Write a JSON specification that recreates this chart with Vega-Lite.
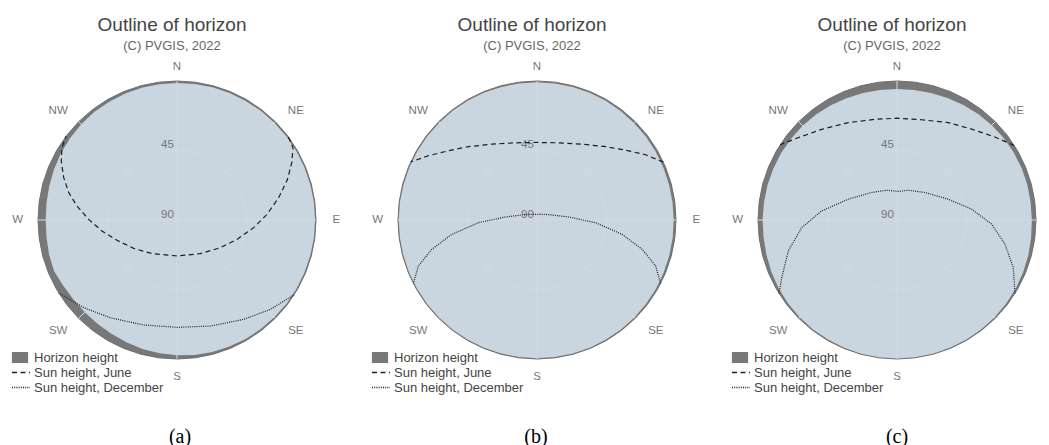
{
  "$schema": "https://vega.github.io/schema/vega-lite/v6.json",
  "background": "white",
  "padding": {"left": 0, "right": 0, "top": 16, "bottom": 0},
  "spacing": 0,
  "config": {
    "view": {"stroke": null},
    "font": "Liberation Sans",
    "title": {"font": "Liberation Sans", "fontSize": 19, "fontWeight": "normal", "color": "#444444", "subtitleFont": "Liberation Sans", "subtitleFontSize": 13, "subtitleFontWeight": "normal", "subtitleColor": "#666666", "subtitlePadding": 5, "offset": 4},
    "legend": {"labelFont": "Liberation Sans", "labelFontSize": 13, "labelFontWeight": "normal", "labelColor": "#444444", "symbolSize": 324, "clipHeight": 15, "rowPadding": 0, "padding": 0, "labelOffset": 4, "title": null, "orient": "none", "legendX": 11, "legendY": 293}
  },
  "datasets": {
    "dirs": [
      {"az": 0, "label": "N"}, {"az": 45, "label": "NE"}, {"az": 90, "label": "E"}, {"az": 135, "label": "SE"},
      {"az": 180, "label": "S"}, {"az": 225, "label": "SW"}, {"az": 270, "label": "W"}, {"az": 315, "label": "NW"}
    ],
    "ticks": [{"elev": 45, "label": "45"}, {"elev": 90, "label": "90"}],
    "horizonA": [
      {"az": 0, "h": 1.3}, {"az": 7.5, "h": 1.2}, {"az": 15, "h": 1.1}, {"az": 22.5, "h": 1.0}, {"az": 30, "h": 1.0}, {"az": 37.5, "h": 0.9},
      {"az": 45, "h": 0.9}, {"az": 52.5, "h": 0.8}, {"az": 60, "h": 0.8}, {"az": 67.5, "h": 0.7}, {"az": 75, "h": 0.7}, {"az": 82.5, "h": 0.6},
      {"az": 90, "h": 0.6}, {"az": 97.5, "h": 0.6}, {"az": 105, "h": 0.7}, {"az": 112.5, "h": 0.7}, {"az": 120, "h": 0.8}, {"az": 127.5, "h": 0.8},
      {"az": 135, "h": 0.9}, {"az": 142.5, "h": 1.0}, {"az": 150, "h": 1.1}, {"az": 157.5, "h": 1.3}, {"az": 165, "h": 1.6}, {"az": 172.5, "h": 1.9},
      {"az": 180, "h": 2.4}, {"az": 187.5, "h": 3.0}, {"az": 195, "h": 3.6}, {"az": 202.5, "h": 4.3}, {"az": 210, "h": 5.0}, {"az": 217.5, "h": 5.4},
      {"az": 225, "h": 5.6}, {"az": 232.5, "h": 5.5}, {"az": 240, "h": 5.0}, {"az": 247.5, "h": 3.8}, {"az": 255, "h": 4.2}, {"az": 262.5, "h": 4.8},
      {"az": 270, "h": 5.0}, {"az": 277.5, "h": 4.8}, {"az": 285, "h": 4.4}, {"az": 292.5, "h": 3.9}, {"az": 300, "h": 3.3}, {"az": 307.5, "h": 2.8},
      {"az": 315, "h": 2.3}, {"az": 322.5, "h": 1.9}, {"az": 330, "h": 1.7}, {"az": 337.5, "h": 1.5}, {"az": 345, "h": 1.4}, {"az": 352.5, "h": 1.3}
    ],
    "horizonB": [
      {"az": 0, "h": 0.8}, {"az": 7.5, "h": 0.8}, {"az": 15, "h": 0.8}, {"az": 22.5, "h": 0.9}, {"az": 30, "h": 0.9}, {"az": 37.5, "h": 1.0},
      {"az": 45, "h": 1.1}, {"az": 52.5, "h": 1.2}, {"az": 60, "h": 1.3}, {"az": 67.5, "h": 1.4}, {"az": 75, "h": 1.5}, {"az": 82.5, "h": 1.5},
      {"az": 90, "h": 1.5}, {"az": 97.5, "h": 1.4}, {"az": 105, "h": 1.3}, {"az": 112.5, "h": 1.2}, {"az": 120, "h": 1.0}, {"az": 127.5, "h": 0.9},
      {"az": 135, "h": 0.8}, {"az": 142.5, "h": 0.7}, {"az": 150, "h": 0.6}, {"az": 157.5, "h": 0.5}, {"az": 165, "h": 0.5}, {"az": 172.5, "h": 0.5},
      {"az": 180, "h": 0.5}, {"az": 187.5, "h": 0.5}, {"az": 195, "h": 0.5}, {"az": 202.5, "h": 0.5}, {"az": 210, "h": 0.5}, {"az": 217.5, "h": 0.5},
      {"az": 225, "h": 0.5}, {"az": 232.5, "h": 0.5}, {"az": 240, "h": 0.5}, {"az": 247.5, "h": 0.5}, {"az": 255, "h": 0.5}, {"az": 262.5, "h": 0.5},
      {"az": 270, "h": 0.5}, {"az": 277.5, "h": 0.5}, {"az": 285, "h": 0.6}, {"az": 292.5, "h": 0.6}, {"az": 300, "h": 0.6}, {"az": 307.5, "h": 0.6},
      {"az": 315, "h": 0.7}, {"az": 322.5, "h": 0.7}, {"az": 330, "h": 0.7}, {"az": 337.5, "h": 0.7}, {"az": 345, "h": 0.8}, {"az": 352.5, "h": 0.8}
    ],
    "horizonC": [
      {"az": 0, "h": 5.2}, {"az": 7.5, "h": 5.1}, {"az": 15, "h": 4.9}, {"az": 22.5, "h": 4.5}, {"az": 30, "h": 4.0}, {"az": 37.5, "h": 3.6},
      {"az": 45, "h": 3.2}, {"az": 52.5, "h": 2.9}, {"az": 60, "h": 2.7}, {"az": 67.5, "h": 2.6}, {"az": 75, "h": 2.6}, {"az": 82.5, "h": 2.7},
      {"az": 90, "h": 2.7}, {"az": 97.5, "h": 2.4}, {"az": 105, "h": 2.0}, {"az": 112.5, "h": 1.6}, {"az": 120, "h": 1.2}, {"az": 127.5, "h": 1.0},
      {"az": 135, "h": 0.8}, {"az": 142.5, "h": 0.6}, {"az": 150, "h": 0.5}, {"az": 157.5, "h": 0.4}, {"az": 165, "h": 0.3}, {"az": 172.5, "h": 0.3},
      {"az": 180, "h": 0.3}, {"az": 187.5, "h": 0.3}, {"az": 195, "h": 0.4}, {"az": 202.5, "h": 0.5}, {"az": 210, "h": 0.6}, {"az": 217.5, "h": 0.7},
      {"az": 225, "h": 0.9}, {"az": 232.5, "h": 1.1}, {"az": 240, "h": 1.5}, {"az": 247.5, "h": 2.0}, {"az": 255, "h": 2.5}, {"az": 262.5, "h": 2.9},
      {"az": 270, "h": 3.0}, {"az": 277.5, "h": 3.1}, {"az": 285, "h": 3.2}, {"az": 292.5, "h": 3.3}, {"az": 300, "h": 3.4}, {"az": 307.5, "h": 3.5},
      {"az": 315, "h": 3.6}, {"az": 322.5, "h": 3.9}, {"az": 330, "h": 4.2}, {"az": 337.5, "h": 4.6}, {"az": 345, "h": 4.9}, {"az": 352.5, "h": 5.1}
    ],
    "sunA": [
      {"series": "Sun height, June", "az": 53.3, "elev": 0}, {"series": "Sun height, June", "az": 58.1, "elev": 1.5},
      {"series": "Sun height, June", "az": 63.5, "elev": 7.0}, {"series": "Sun height, June", "az": 70.0, "elev": 14.0},
      {"series": "Sun height, June", "az": 77.6, "elev": 22.6}, {"series": "Sun height, June", "az": 86.4, "elev": 31.6},
      {"series": "Sun height, June", "az": 95.7, "elev": 40.1}, {"series": "Sun height, June", "az": 107.9, "elev": 49.2},
      {"series": "Sun height, June", "az": 122.6, "elev": 56.7}, {"series": "Sun height, June", "az": 145.3, "elev": 63.5},
      {"series": "Sun height, June", "az": 180, "elev": 66.7}, {"series": "Sun height, June", "az": 216.6, "elev": 62.9},
      {"series": "Sun height, June", "az": 236.8, "elev": 56.5}, {"series": "Sun height, June", "az": 251.3, "elev": 49.0},
      {"series": "Sun height, June", "az": 261.7, "elev": 40.9}, {"series": "Sun height, June", "az": 270.4, "elev": 32.8},
      {"series": "Sun height, June", "az": 278.0, "elev": 24.6}, {"series": "Sun height, June", "az": 284.2, "elev": 17.7},
      {"series": "Sun height, June", "az": 290.5, "elev": 11.7}, {"series": "Sun height, June", "az": 297.0, "elev": 5.9},
      {"series": "Sun height, June", "az": 302.2, "elev": 2.0}, {"series": "Sun height, June", "az": 307.1, "elev": 0},
      {"series": "Sun height, December", "az": 122.5, "elev": 0}, {"series": "Sun height, December", "az": 133.7, "elev": 6.3},
      {"series": "Sun height, December", "az": 146.1, "elev": 12.5}, {"series": "Sun height, December", "az": 162.5, "elev": 18.0},
      {"series": "Sun height, December", "az": 180, "elev": 20.5}, {"series": "Sun height, December", "az": 197.6, "elev": 18.7},
      {"series": "Sun height, December", "az": 214.3, "elev": 13.4}, {"series": "Sun height, December", "az": 226.8, "elev": 7.1},
      {"series": "Sun height, December", "az": 238.4, "elev": 0}
    ],
    "sunB": [
      {"series": "Sun height, June", "az": 65.4, "elev": 0}, {"series": "Sun height, June", "az": 59.0, "elev": 8.0},
      {"series": "Sun height, June", "az": 51.7, "elev": 17.0}, {"series": "Sun height, June", "az": 43.1, "elev": 25.0},
      {"series": "Sun height, June", "az": 30.7, "elev": 32.9}, {"series": "Sun height, June", "az": 15.7, "elev": 38.1},
      {"series": "Sun height, June", "az": 0, "elev": 39.8}, {"series": "Sun height, June", "az": 344.3, "elev": 38.1},
      {"series": "Sun height, June", "az": 329.3, "elev": 32.9}, {"series": "Sun height, June", "az": 316.9, "elev": 25.0},
      {"series": "Sun height, June", "az": 308.0, "elev": 17.2}, {"series": "Sun height, June", "az": 300.6, "elev": 8.3},
      {"series": "Sun height, June", "az": 294.7, "elev": 0},
      {"series": "Sun height, December", "az": 117.2, "elev": 0}, {"series": "Sun height, December", "az": 111.2, "elev": 7.6},
      {"series": "Sun height, December", "az": 105.6, "elev": 19.2}, {"series": "Sun height, December", "az": 99.6, "elev": 34.0},
      {"series": "Sun height, December", "az": 92.6, "elev": 52.1}, {"series": "Sun height, December", "az": 84.6, "elev": 69.4},
      {"series": "Sun height, December", "az": 71.6, "elev": 79.7}, {"series": "Sun height, December", "az": 49.6, "elev": 84.3},
      {"series": "Sun height, December", "az": 0, "elev": 86.3}, {"series": "Sun height, December", "az": 310.4, "elev": 84.3},
      {"series": "Sun height, December", "az": 288.4, "elev": 79.7}, {"series": "Sun height, December", "az": 275.4, "elev": 69.4},
      {"series": "Sun height, December", "az": 267.4, "elev": 52.1}, {"series": "Sun height, December", "az": 260.4, "elev": 34.0},
      {"series": "Sun height, December", "az": 254.4, "elev": 19.2}, {"series": "Sun height, December", "az": 248.8, "elev": 7.6},
      {"series": "Sun height, December", "az": 242.8, "elev": 0}
    ],
    "sunC": [
      {"series": "Sun height, June", "az": 57.6, "elev": 0}, {"series": "Sun height, June", "az": 49.7, "elev": 6.9},
      {"series": "Sun height, June", "az": 39.4, "elev": 13.9}, {"series": "Sun height, June", "az": 27.8, "elev": 18.7},
      {"series": "Sun height, June", "az": 13.7, "elev": 23.2}, {"series": "Sun height, June", "az": 0, "elev": 24.1},
      {"series": "Sun height, June", "az": 347.7, "elev": 23.3}, {"series": "Sun height, June", "az": 333.5, "elev": 19.5},
      {"series": "Sun height, June", "az": 320.3, "elev": 13.7}, {"series": "Sun height, June", "az": 309.9, "elev": 6.8},
      {"series": "Sun height, June", "az": 302.8, "elev": 0},
      {"series": "Sun height, December", "az": 121.9, "elev": 0}, {"series": "Sun height, December", "az": 112.2, "elev": 8.7},
      {"series": "Sun height, December", "az": 102.6, "elev": 18.4}, {"series": "Sun height, December", "az": 92.5, "elev": 28.7},
      {"series": "Sun height, December", "az": 81.7, "elev": 41.2}, {"series": "Sun height, December", "az": 67.9, "elev": 54.2},
      {"series": "Sun height, December", "az": 45.5, "elev": 64.6}, {"series": "Sun height, December", "az": 20.8, "elev": 69.4},
      {"series": "Sun height, December", "az": 2.7, "elev": 71.5}, {"series": "Sun height, December", "az": 340.9, "elev": 69.6},
      {"series": "Sun height, December", "az": 317.4, "elev": 65.8}, {"series": "Sun height, December", "az": 293.2, "elev": 55.8},
      {"series": "Sun height, December", "az": 276.9, "elev": 40.9}, {"series": "Sun height, December", "az": 265.5, "elev": 28.2},
      {"series": "Sun height, December", "az": 254.2, "elev": 16.9}, {"series": "Sun height, December", "az": 243.5, "elev": 6.7},
      {"series": "Sun height, December", "az": 238.1, "elev": 0}
    ]
  },
  "resolve": {"scale": {"strokeDash": "independent", "fill": "independent"}, "legend": {"strokeDash": "independent", "fill": "independent"}},
  "hconcat": [
    {
      "title": {"text": "(a)", "orient": "bottom", "anchor": "middle", "font": "Liberation Serif", "fontSize": 20, "color": "#000000", "offset": 8, "dx": 0},
      "resolve": {"scale": {"strokeDash": "independent", "fill": "independent"}, "legend": {"strokeDash": "independent", "fill": "independent"}},
      "vconcat": [
        {
          "title": {"text": "Outline of horizon", "subtitle": "(C) PVGIS, 2022", "anchor": "middle", "dx": -8},
          "width": 360, "height": 362,
          "projection": {"type": "azimuthalEquidistant", "rotate": [0, -90, 0], "reflectY": true, "scale": 88.5, "translate": [177, 163]},
          "layer": [
            {"data": {"name": "horizonA"}, "mark": {"type": "line", "interpolate": "linear-closed", "fill": "#787878", "stroke": "#6e6e6e", "strokeWidth": 1},
             "encoding": {"longitude": {"field": "az", "type": "quantitative"}, "latitude": {"datum": 0},
               "fill": {"datum": "Horizon height", "type": "nominal", "scale": {"range": ["#787878"]},
                 "legend": {"symbolType": "M-0.9,-0.62H0.9V0.62H-0.9Z", "symbolStrokeWidth": 0, "symbolOpacity": 1, "labelOffset": 5, "legendY": 293}}}},
            {"data": {"name": "horizonA"}, "mark": {"type": "line", "interpolate": "linear-closed", "fill": "#c9d5df", "strokeWidth": 0},
             "encoding": {"longitude": {"field": "az", "type": "quantitative"}, "latitude": {"field": "h", "type": "quantitative"}}},
            {"data": {"name": "horizonA"}, "mark": {"type": "line", "interpolate": "linear-closed", "stroke": "#d3dbe3", "strokeWidth": 1},
             "encoding": {"longitude": {"field": "az", "type": "quantitative"}, "latitude": {"datum": 45}}},
            {"data": {"name": "dirs"}, "mark": {"type": "rule", "stroke": "#d3dbe3", "strokeWidth": 1},
             "encoding": {"longitude": {"field": "az", "type": "quantitative"}, "latitude": {"datum": 90}, "longitude2": {"field": "az"}, "latitude2": {"datum": 0}}},
            {"data": {"name": "ticks"}, "mark": {"type": "text", "font": "Liberation Sans", "fontSize": 11.5, "color": "#777777", "dx": -9.5, "dy": -5.5},
             "encoding": {"longitude": {"datum": 0}, "latitude": {"field": "elev", "type": "quantitative"}, "text": {"field": "label"}}},
            {"data": {"name": "sunA"}, "mark": {"type": "line", "stroke": "#1e1e1e", "strokeWidth": 1.2},
             "encoding": {"longitude": {"field": "az", "type": "quantitative"}, "latitude": {"field": "elev", "type": "quantitative"},
               "strokeDash": {"field": "series", "type": "nominal",
                 "scale": {"domain": ["Sun height, June", "Sun height, December"], "range": [[5, 3.5], [1, 1.2]]},
                 "legend": {"symbolType": "stroke", "symbolStrokeColor": "#222222", "symbolStrokeWidth": 1.3, "symbolOpacity": 1, "labelOffset": 3, "legendY": 308}}}},
            {"data": {"name": "dirs"}, "transform": [{"filter": "datum.label == 'N'"}], "mark": {"type": "text", "font": "Liberation Sans", "fontSize": 11.5, "color": "#777777"},
             "encoding": {"longitude": {"field": "az", "type": "quantitative"}, "latitude": {"datum": -9.1}, "text": {"field": "label"}}},
            {"data": {"name": "dirs"}, "transform": [{"filter": "datum.label == 'S'"}], "mark": {"type": "text", "font": "Liberation Sans", "fontSize": 11.5, "color": "#777777"},
             "encoding": {"longitude": {"field": "az", "type": "quantitative"}, "latitude": {"datum": -11.7}, "text": {"field": "label"}}},
            {"data": {"name": "dirs"}, "transform": [{"filter": "datum.label == 'E' || datum.label == 'W'"}], "mark": {"type": "text", "font": "Liberation Sans", "fontSize": 11.5, "color": "#777777"},
             "encoding": {"longitude": {"field": "az", "type": "quantitative"}, "latitude": {"datum": -13.2}, "text": {"field": "label"}}},
            {"data": {"name": "dirs"}, "transform": [{"filter": "datum.label == 'NE' || datum.label == 'NW'"}], "mark": {"type": "text", "font": "Liberation Sans", "fontSize": 11.5, "color": "#777777", "dy": 9.75},
             "encoding": {"longitude": {"field": "az", "type": "quantitative"}, "latitude": {"datum": -18.8}, "text": {"field": "label"}}},
            {"data": {"name": "dirs"}, "transform": [{"filter": "datum.label == 'SE' || datum.label == 'SW'"}], "mark": {"type": "text", "font": "Liberation Sans", "fontSize": 11.5, "color": "#777777", "dy": -7.75},
             "encoding": {"longitude": {"field": "az", "type": "quantitative"}, "latitude": {"datum": -18.8}, "text": {"field": "label"}}}
          ]
        }
      ]
    },
    {
      "title": {"text": "(b)", "orient": "bottom", "anchor": "middle", "font": "Liberation Serif", "fontSize": 20, "color": "#000000", "offset": 8, "dx": -4},
      "resolve": {"scale": {"strokeDash": "independent", "fill": "independent"}, "legend": {"strokeDash": "independent", "fill": "independent"}},
      "vconcat": [
        {
          "title": {"text": "Outline of horizon", "subtitle": "(C) PVGIS, 2022", "anchor": "middle", "dx": -8},
          "width": 360, "height": 362,
          "projection": {"type": "azimuthalEquidistant", "rotate": [0, -90, 0], "reflectY": true, "scale": 88.5, "translate": [177, 163]},
          "layer": [
            {"data": {"name": "horizonB"}, "mark": {"type": "line", "interpolate": "linear-closed", "fill": "#787878", "stroke": "#6e6e6e", "strokeWidth": 1},
             "encoding": {"longitude": {"field": "az", "type": "quantitative"}, "latitude": {"datum": 0},
               "fill": {"datum": "Horizon height", "type": "nominal", "scale": {"range": ["#787878"]},
                 "legend": {"symbolType": "M-0.9,-0.62H0.9V0.62H-0.9Z", "symbolStrokeWidth": 0, "symbolOpacity": 1, "labelOffset": 5, "legendY": 293}}}},
            {"data": {"name": "horizonB"}, "mark": {"type": "line", "interpolate": "linear-closed", "fill": "#c9d5df", "strokeWidth": 0},
             "encoding": {"longitude": {"field": "az", "type": "quantitative"}, "latitude": {"field": "h", "type": "quantitative"}}},
            {"data": {"name": "horizonB"}, "mark": {"type": "line", "interpolate": "linear-closed", "stroke": "#d3dbe3", "strokeWidth": 1},
             "encoding": {"longitude": {"field": "az", "type": "quantitative"}, "latitude": {"datum": 45}}},
            {"data": {"name": "dirs"}, "mark": {"type": "rule", "stroke": "#d3dbe3", "strokeWidth": 1},
             "encoding": {"longitude": {"field": "az", "type": "quantitative"}, "latitude": {"datum": 90}, "longitude2": {"field": "az"}, "latitude2": {"datum": 0}}},
            {"data": {"name": "ticks"}, "mark": {"type": "text", "font": "Liberation Sans", "fontSize": 11.5, "color": "#777777", "dx": -9.5, "dy": -5.5},
             "encoding": {"longitude": {"datum": 0}, "latitude": {"field": "elev", "type": "quantitative"}, "text": {"field": "label"}}},
            {"data": {"name": "sunB"}, "mark": {"type": "line", "stroke": "#1e1e1e", "strokeWidth": 1.2},
             "encoding": {"longitude": {"field": "az", "type": "quantitative"}, "latitude": {"field": "elev", "type": "quantitative"},
               "strokeDash": {"field": "series", "type": "nominal",
                 "scale": {"domain": ["Sun height, June", "Sun height, December"], "range": [[5, 3.5], [1, 1.2]]},
                 "legend": {"symbolType": "stroke", "symbolStrokeColor": "#222222", "symbolStrokeWidth": 1.3, "symbolOpacity": 1, "labelOffset": 3, "legendY": 308}}}},
            {"data": {"name": "dirs"}, "transform": [{"filter": "datum.label == 'N'"}], "mark": {"type": "text", "font": "Liberation Sans", "fontSize": 11.5, "color": "#777777"},
             "encoding": {"longitude": {"field": "az", "type": "quantitative"}, "latitude": {"datum": -9.1}, "text": {"field": "label"}}},
            {"data": {"name": "dirs"}, "transform": [{"filter": "datum.label == 'S'"}], "mark": {"type": "text", "font": "Liberation Sans", "fontSize": 11.5, "color": "#777777"},
             "encoding": {"longitude": {"field": "az", "type": "quantitative"}, "latitude": {"datum": -11.7}, "text": {"field": "label"}}},
            {"data": {"name": "dirs"}, "transform": [{"filter": "datum.label == 'E' || datum.label == 'W'"}], "mark": {"type": "text", "font": "Liberation Sans", "fontSize": 11.5, "color": "#777777"},
             "encoding": {"longitude": {"field": "az", "type": "quantitative"}, "latitude": {"datum": -13.2}, "text": {"field": "label"}}},
            {"data": {"name": "dirs"}, "transform": [{"filter": "datum.label == 'NE' || datum.label == 'NW'"}], "mark": {"type": "text", "font": "Liberation Sans", "fontSize": 11.5, "color": "#777777", "dy": 9.75},
             "encoding": {"longitude": {"field": "az", "type": "quantitative"}, "latitude": {"datum": -18.8}, "text": {"field": "label"}}},
            {"data": {"name": "dirs"}, "transform": [{"filter": "datum.label == 'SE' || datum.label == 'SW'"}], "mark": {"type": "text", "font": "Liberation Sans", "fontSize": 11.5, "color": "#777777", "dy": -7.75},
             "encoding": {"longitude": {"field": "az", "type": "quantitative"}, "latitude": {"datum": -18.8}, "text": {"field": "label"}}}
          ]
        }
      ]
    },
    {
      "title": {"text": "(c)", "orient": "bottom", "anchor": "middle", "font": "Liberation Serif", "fontSize": 20, "color": "#000000", "offset": 8, "dx": 12.5},
      "resolve": {"scale": {"strokeDash": "independent", "fill": "independent"}, "legend": {"strokeDash": "independent", "fill": "independent"}},
      "vconcat": [
        {
          "title": {"text": "Outline of horizon", "subtitle": "(C) PVGIS, 2022", "anchor": "middle", "dx": 7.5},
          "width": 329, "height": 362,
          "projection": {"type": "azimuthalEquidistant", "rotate": [0, -90, 0], "reflectY": true, "scale": 88.5, "translate": [177, 163]},
          "layer": [
            {"data": {"name": "horizonC"}, "mark": {"type": "line", "interpolate": "linear-closed", "fill": "#787878", "stroke": "#6e6e6e", "strokeWidth": 1},
             "encoding": {"longitude": {"field": "az", "type": "quantitative"}, "latitude": {"datum": 0},
               "fill": {"datum": "Horizon height", "type": "nominal", "scale": {"range": ["#787878"]},
                 "legend": {"symbolType": "M-0.9,-0.62H0.9V0.62H-0.9Z", "symbolStrokeWidth": 0, "symbolOpacity": 1, "labelOffset": 5, "legendY": 293}}}},
            {"data": {"name": "horizonC"}, "mark": {"type": "line", "interpolate": "linear-closed", "fill": "#c9d5df", "strokeWidth": 0},
             "encoding": {"longitude": {"field": "az", "type": "quantitative"}, "latitude": {"field": "h", "type": "quantitative"}}},
            {"data": {"name": "horizonC"}, "mark": {"type": "line", "interpolate": "linear-closed", "stroke": "#d3dbe3", "strokeWidth": 1},
             "encoding": {"longitude": {"field": "az", "type": "quantitative"}, "latitude": {"datum": 45}}},
            {"data": {"name": "dirs"}, "mark": {"type": "rule", "stroke": "#d3dbe3", "strokeWidth": 1},
             "encoding": {"longitude": {"field": "az", "type": "quantitative"}, "latitude": {"datum": 90}, "longitude2": {"field": "az"}, "latitude2": {"datum": 0}}},
            {"data": {"name": "ticks"}, "mark": {"type": "text", "font": "Liberation Sans", "fontSize": 11.5, "color": "#777777", "dx": -9.5, "dy": -5.5},
             "encoding": {"longitude": {"datum": 0}, "latitude": {"field": "elev", "type": "quantitative"}, "text": {"field": "label"}}},
            {"data": {"name": "sunC"}, "mark": {"type": "line", "stroke": "#1e1e1e", "strokeWidth": 1.2},
             "encoding": {"longitude": {"field": "az", "type": "quantitative"}, "latitude": {"field": "elev", "type": "quantitative"},
               "strokeDash": {"field": "series", "type": "nominal",
                 "scale": {"domain": ["Sun height, June", "Sun height, December"], "range": [[5, 3.5], [1, 1.2]]},
                 "legend": {"symbolType": "stroke", "symbolStrokeColor": "#222222", "symbolStrokeWidth": 1.3, "symbolOpacity": 1, "labelOffset": 3, "legendY": 308}}}},
            {"data": {"name": "dirs"}, "transform": [{"filter": "datum.label == 'N'"}], "mark": {"type": "text", "font": "Liberation Sans", "fontSize": 11.5, "color": "#777777"},
             "encoding": {"longitude": {"field": "az", "type": "quantitative"}, "latitude": {"datum": -9.1}, "text": {"field": "label"}}},
            {"data": {"name": "dirs"}, "transform": [{"filter": "datum.label == 'S'"}], "mark": {"type": "text", "font": "Liberation Sans", "fontSize": 11.5, "color": "#777777"},
             "encoding": {"longitude": {"field": "az", "type": "quantitative"}, "latitude": {"datum": -11.7}, "text": {"field": "label"}}},
            {"data": {"name": "dirs"}, "transform": [{"filter": "datum.label == 'W'"}], "mark": {"type": "text", "font": "Liberation Sans", "fontSize": 11.5, "color": "#777777"},
             "encoding": {"longitude": {"field": "az", "type": "quantitative"}, "latitude": {"datum": -13.2}, "text": {"field": "label"}}},
            {"data": {"name": "dirs"}, "transform": [{"filter": "datum.label == 'NE' || datum.label == 'NW'"}], "mark": {"type": "text", "font": "Liberation Sans", "fontSize": 11.5, "color": "#777777", "dy": 9.75},
             "encoding": {"longitude": {"field": "az", "type": "quantitative"}, "latitude": {"datum": -18.8}, "text": {"field": "label"}}},
            {"data": {"name": "dirs"}, "transform": [{"filter": "datum.label == 'SE' || datum.label == 'SW'"}], "mark": {"type": "text", "font": "Liberation Sans", "fontSize": 11.5, "color": "#777777", "dy": -7.75},
             "encoding": {"longitude": {"field": "az", "type": "quantitative"}, "latitude": {"datum": -18.8}, "text": {"field": "label"}}}
          ]
        }
      ]
    }
  ]
}
